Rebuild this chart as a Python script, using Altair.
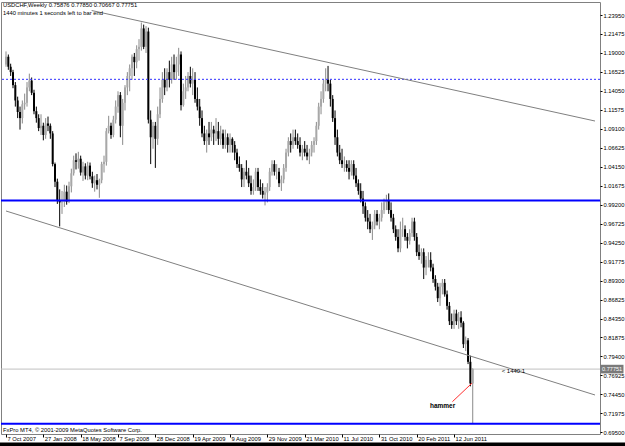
import json
import altair as alt
import pandas as pd

FONT = "Liberation Sans"

# ---------------- data ----------------
date_labels = ["7 Oct 2007", "27 Jan 2008", "18 May 2008", "7 Sep 2008", "28 Dec 2008",
               "19 Apr 2009", "9 Aug 2009", "29 Nov 2009", "21 Mar 2010", "11 Jul 2010",
               "31 Oct 2010", "20 Feb 2011", "12 Jun 2011"]
label_weeks = [0, 16, 32, 48, 64, 80, 96, 112, 128, 144, 160, 176, 192]

price_ticks = [0.69500, 0.71975, 0.74450, 0.76925, 0.79400, 0.81875, 0.84350, 0.86825,
               0.89300, 0.91775, 0.94250, 0.96725, 0.99200, 1.01675, 1.04150, 1.06625,
               1.09100, 1.11575, 1.14050, 1.16525, 1.19000, 1.21475, 1.23950]

opens = [1.1750, 1.1850, 1.1720, 1.1650, 1.1480, 1.1280, 1.1130, 1.1050, 1.1230, 1.1250,
         1.1450, 1.1540, 1.1380, 1.1140, 1.1050, 1.0920, 1.0950, 1.0830, 1.0980, 1.0950,
         1.0850, 1.0450, 1.0220, 0.9980, 0.9950, 0.9960, 1.0090, 0.9960, 1.0160, 1.0330,
         1.0500, 1.0480, 1.0520, 1.0340, 1.0420, 1.0300, 1.0430, 1.0290, 1.0200, 1.0240,
         1.0180, 1.0240, 1.0450, 1.0480, 1.0880, 1.0950, 1.0830, 1.1030, 1.1200, 1.1350,
         1.0950, 1.1250, 1.1450, 1.1600, 1.1700, 1.1850, 1.1780, 1.1950, 1.1980, 1.2220,
         1.1980, 1.2180, 1.1030, 1.0800, 1.0950, 1.0780, 1.1100, 1.1300, 1.1550, 1.1450,
         1.1650, 1.1550, 1.1750, 1.1650, 1.1750, 1.1880, 1.1220, 1.1400, 1.1450, 1.1600,
         1.1500, 1.1550, 1.1300, 1.1200, 1.1050, 1.0850, 1.0750, 1.0850, 1.0800, 1.0900,
         1.0850, 1.0880, 1.0780, 1.0850, 1.0700, 1.0800, 1.0700, 1.0780, 1.0700, 1.0600,
         1.0450, 1.0400, 1.0250, 1.0350, 1.0300, 1.0200, 1.0100, 1.0150, 1.0350, 1.0150,
         1.0100, 1.0050, 1.0080, 1.0150, 1.0350, 1.0450, 1.0350, 1.0350, 1.0200, 1.0250,
         1.0400, 1.0600, 1.0750, 1.0700, 1.0800, 1.0750, 1.0700, 1.0600, 1.0650, 1.0600,
         1.0550, 1.0600, 1.0700, 1.0750, 1.0950, 1.1200, 1.1300, 1.1500, 1.1550, 1.1500,
         1.1300, 1.1050, 1.0800, 1.0600, 1.0500, 1.0450, 1.0450, 1.0400, 1.0350, 1.0450,
         1.0300, 1.0200, 1.0100, 1.0000, 0.9900, 0.9750, 0.9700, 0.9600, 0.9650, 0.9800,
         0.9700, 0.9750, 0.9850, 0.9950, 0.9980, 0.9850, 0.9750, 0.9600, 0.9500, 0.9350,
         0.9600, 0.9600, 0.9500, 0.9450, 0.9550, 0.9700, 0.9500, 0.9300, 0.9250, 0.9300,
         0.9100, 0.9200, 0.9200, 0.9100, 0.8950, 0.8850, 0.8700, 0.8850, 0.8900, 0.8750,
         0.8600, 0.8400, 0.8350, 0.8500, 0.8400, 0.8450, 0.8380, 0.8100, 0.8150, 0.7870,
         0.75876]
highs = [1.1920, 1.1880, 1.1760, 1.1680, 1.1520, 1.1330, 1.1200, 1.1280, 1.1370, 1.1520,
         1.1630, 1.1580, 1.1420, 1.1200, 1.1100, 1.1100, 1.0990, 1.1050, 1.1070, 1.0980,
         1.0880, 1.0470, 1.0260, 1.0120, 1.0100, 1.0180, 1.0170, 1.0220, 1.0390, 1.0560,
         1.0590, 1.0610, 1.0560, 1.0480, 1.0460, 1.0480, 1.0470, 1.0350, 1.0300, 1.0320,
         1.0260, 1.0480, 1.0560, 1.0920, 1.1080, 1.0990, 1.1080, 1.1280, 1.1400, 1.1390,
         1.1300, 1.1480, 1.1650, 1.1750, 1.1880, 1.1900, 1.2000, 1.2080, 1.2297, 1.2270,
         1.2250, 1.2230, 1.1150, 1.1000, 1.1000, 1.1200, 1.1450, 1.1650, 1.1700, 1.1700,
         1.1800, 1.1850, 1.1880, 1.1850, 1.1967, 1.1920, 1.1500, 1.1600, 1.1650, 1.1720,
         1.1700, 1.1650, 1.1450, 1.1300, 1.1150, 1.0950, 1.0900, 1.1000, 1.1000, 1.0950,
         1.1050, 1.1000, 1.0950, 1.0900, 1.0900, 1.0850, 1.0850, 1.0800, 1.0750, 1.0650,
         1.0550, 1.0450, 1.0400, 1.0500, 1.0400, 1.0300, 1.0250, 1.0400, 1.0400, 1.0250,
         1.0200, 1.0150, 1.0200, 1.0400, 1.0500, 1.0500, 1.0450, 1.0400, 1.0300, 1.0450,
         1.0650, 1.0800, 1.0850, 1.0900, 1.0900, 1.0850, 1.0800, 1.0700, 1.0750, 1.0700,
         1.0650, 1.0750, 1.0800, 1.1000, 1.1250, 1.1400, 1.1550, 1.1700, 1.1731, 1.1550,
         1.1350, 1.1150, 1.0900, 1.0700, 1.0650, 1.0550, 1.0500, 1.0500, 1.0500, 1.0500,
         1.0400, 1.0250, 1.0200, 1.0100, 0.9950, 0.9850, 0.9800, 0.9700, 0.9850, 0.9850,
         0.9800, 0.9950, 1.0000, 1.0050, 1.0067, 0.9950, 0.9800, 0.9650, 0.9600, 0.9700,
         0.9750, 0.9650, 0.9550, 0.9600, 0.9750, 0.9750, 0.9550, 0.9400, 0.9350, 0.9350,
         0.9250, 0.9300, 0.9300, 0.9150, 0.9000, 0.8900, 0.8900, 0.8950, 0.8950, 0.8800,
         0.8650, 0.8500, 0.8550, 0.8550, 0.8520, 0.8530, 0.8400, 0.8200, 0.8180, 0.7950,
         0.77850]
lows = [1.1720, 1.1680, 1.1600, 1.1440, 1.1200, 1.1050, 1.0900, 1.0980, 1.1160, 1.1200,
        1.1400, 1.1350, 1.1100, 1.0990, 1.0880, 1.0830, 1.0760, 1.0780, 1.0880, 1.0780,
        1.0420, 1.0150, 0.9930, 0.9637, 0.9800, 0.9890, 0.9920, 0.9940, 1.0080, 1.0300,
        1.0380, 1.0390, 1.0300, 1.0230, 1.0250, 1.0240, 1.0250, 1.0140, 1.0090, 1.0120,
        1.0010, 1.0200, 1.0340, 1.0430, 1.0850, 1.0780, 1.0800, 1.0980, 1.1120, 1.0800,
        1.0700, 1.1150, 1.1350, 1.1400, 1.1550, 1.1600, 1.1700, 1.1800, 1.1930, 1.1950,
        1.1900, 1.0980, 1.0450, 1.0650, 1.0400, 1.0700, 1.1050, 1.1250, 1.1350, 1.1400,
        1.1450, 1.1500, 1.1550, 1.1550, 1.1600, 1.1150, 1.1200, 1.1300, 1.1400, 1.1450,
        1.1350, 1.1250, 1.1150, 1.0950, 1.0800, 1.0700, 1.0600, 1.0700, 1.0750, 1.0700,
        1.0750, 1.0700, 1.0700, 1.0650, 1.0650, 1.0600, 1.0600, 1.0600, 1.0500, 1.0400,
        1.0350, 1.0150, 1.0150, 1.0250, 1.0150, 1.0050, 1.0050, 1.0100, 1.0100, 1.0050,
        1.0000, 0.9911, 0.9950, 1.0100, 1.0300, 1.0300, 1.0250, 1.0150, 1.0100, 1.0200,
        1.0350, 1.0550, 1.0600, 1.0650, 1.0700, 1.0650, 1.0550, 1.0500, 1.0550, 1.0500,
        1.0450, 1.0550, 1.0600, 1.0700, 1.0900, 1.1100, 1.1250, 1.1400, 1.1400, 1.1200,
        1.1000, 1.0700, 1.0550, 1.0450, 1.0400, 1.0350, 1.0350, 1.0250, 1.0300, 1.0250,
        1.0150, 1.0050, 0.9950, 0.9800, 0.9700, 0.9600, 0.9550, 0.9460, 0.9600, 0.9650,
        0.9600, 0.9700, 0.9800, 0.9850, 0.9800, 0.9700, 0.9550, 0.9450, 0.9300, 0.9300,
        0.9500, 0.9450, 0.9350, 0.9400, 0.9500, 0.9450, 0.9250, 0.9200, 0.9150, 0.8950,
        0.9000, 0.9100, 0.9050, 0.8900, 0.8800, 0.8650, 0.8600, 0.8750, 0.8720, 0.8550,
        0.8350, 0.8300, 0.8300, 0.8350, 0.8300, 0.8320, 0.8050, 0.8010, 0.7840, 0.7550,
        0.70667]
closes = [1.1850, 1.1720, 1.1650, 1.1480, 1.1280, 1.1130, 1.1050, 1.1230, 1.1250, 1.1450,
          1.1540, 1.1380, 1.1140, 1.1050, 1.0920, 1.0950, 1.0830, 1.0980, 1.0950, 1.0850,
          1.0450, 1.0220, 0.9980, 0.9950, 0.9960, 1.0090, 0.9960, 1.0160, 1.0330, 1.0500,
          1.0480, 1.0520, 1.0340, 1.0420, 1.0300, 1.0430, 1.0290, 1.0200, 1.0240, 1.0180,
          1.0240, 1.0450, 1.0480, 1.0880, 1.0950, 1.0830, 1.1030, 1.1200, 1.1350, 1.0950,
          1.1250, 1.1450, 1.1600, 1.1700, 1.1850, 1.1780, 1.1950, 1.1980, 1.2220, 1.1980,
          1.2180, 1.1030, 1.0800, 1.0950, 1.0780, 1.1100, 1.1300, 1.1550, 1.1450, 1.1650,
          1.1550, 1.1750, 1.1650, 1.1750, 1.1880, 1.1220, 1.1400, 1.1450, 1.1600, 1.1500,
          1.1550, 1.1300, 1.1200, 1.1050, 1.0850, 1.0750, 1.0850, 1.0800, 1.0900, 1.0850,
          1.0880, 1.0780, 1.0850, 1.0700, 1.0800, 1.0700, 1.0780, 1.0700, 1.0600, 1.0450,
          1.0400, 1.0250, 1.0350, 1.0300, 1.0200, 1.0100, 1.0150, 1.0350, 1.0150, 1.0100,
          1.0050, 1.0080, 1.0150, 1.0350, 1.0450, 1.0350, 1.0350, 1.0200, 1.0250, 1.0400,
          1.0600, 1.0750, 1.0700, 1.0800, 1.0750, 1.0700, 1.0600, 1.0650, 1.0600, 1.0550,
          1.0600, 1.0700, 1.0750, 1.0950, 1.1200, 1.1300, 1.1500, 1.1550, 1.1500, 1.1300,
          1.1050, 1.0800, 1.0600, 1.0500, 1.0450, 1.0450, 1.0400, 1.0350, 1.0450, 1.0300,
          1.0200, 1.0100, 1.0000, 0.9900, 0.9750, 0.9700, 0.9600, 0.9650, 0.9800, 0.9700,
          0.9750, 0.9850, 0.9950, 0.9980, 0.9850, 0.9750, 0.9600, 0.9500, 0.9350, 0.9600,
          0.9600, 0.9500, 0.9450, 0.9550, 0.9700, 0.9500, 0.9300, 0.9250, 0.9300, 0.9100,
          0.9200, 0.9200, 0.9100, 0.8950, 0.8850, 0.8700, 0.8850, 0.8900, 0.8750, 0.8600,
          0.8400, 0.8350, 0.8500, 0.8400, 0.8450, 0.8380, 0.8100, 0.8150, 0.7870, 0.75876,
          0.77751]

# chart objects (week index, price)
h_blue = [0.9975, 0.7062]
h_dotted = [1.1556]
bid_price = 0.77751
upper_channel = {"week": [36.7, 252.4], "price": [1.2454, 1.1012]}
lower_channel = {"week": [0.0, 252.4], "price": [0.9838, 0.7437]}
arrow_line = {"week": [191.3, 199.7], "price": [0.7350, 0.7592]}
hammer_label = {"week": [187.1], "price": [0.7293], "text": ["hammer"]}
timer_label = {"week": [212.4], "price": [0.7750], "text": ["< 1440:1"]}
header_lines = ["USDCHF,Weekly  0.75876 0.77850 0.70667 0.77751",
                "1440 minutes 1 seconds left to bar end"]
footer_text = "FxPro MT4, \u00a9 2001-2009 MetaQuotes Software Corp."

# ---------------- frames ----------------
n = len(closes)
candles = pd.DataFrame({"week": list(range(n)), "open": opens, "high": highs,
                        "low": lows, "close": closes})
candles["dir"] = ["up" if c >= o else "down" for o, c in zip(opens, closes)]

W, H = 599, 432
xs = alt.Scale(domain=[0, 252.4], nice=False, zero=False)
ys = alt.Scale(domain=[0.6928, 1.2565], nice=False, zero=False)

label_expr = json.dumps(date_labels) + "[round(datum.value / 16)]"

x_axis = alt.Axis(orient="bottom", values=label_weeks, labelExpr=label_expr,
                  labelAlign="left", labelBaseline="middle", labelFont=FONT,
                  labelFontSize=5.8, labelColor="#000000", tickSize=3,
                  tickColor="#000000", domain=False, grid=False, title=None,
                  labelPadding=1.5, labelOverlap=False, labelFlush=False, labelOffset=1)
y_axis = alt.Axis(orient="right", values=price_ticks, format=".5f", labelFont=FONT,
                  labelFontSize=5.8, labelColor="#000000", tickSize=2,
                  tickColor="#000000", domain=False, grid=False, title=None,
                  labelPadding=1, labelOverlap=False, labelFlush=False)


def X(f="week"):
    return alt.X(f"{f}:Q", scale=xs, axis=x_axis, title=None)


def Y(f="price"):
    return alt.Y(f"{f}:Q", scale=ys, axis=y_axis, title=None)


bid = alt.Chart(pd.DataFrame({"price": [bid_price]})).mark_rule(
    color="#c0c0c0", strokeWidth=1).encode(y=Y())

wicks = alt.Chart(candles).mark_rule(strokeWidth=1, clip=True).encode(
    x=X(), y=Y("low"), y2="high:Q",
    color=alt.Color("dir:N", scale=alt.Scale(domain=["up", "down"],
                                               range=["#8a8a8a", "#000000"]), legend=None))
bodies = alt.Chart(candles).mark_bar(size=2, clip=True).encode(
    x=X(), y=Y("open"), y2="close:Q",
    color=alt.Color("dir:N", scale=alt.Scale(domain=["up", "down"],
                                               range=["#a8a8a8", "#000000"]), legend=None))

blue = alt.Chart(pd.DataFrame({"price": h_blue})).mark_rule(
    color="#0000ff", strokeWidth=1.8).encode(y=Y())
dotted = alt.Chart(pd.DataFrame({"price": h_dotted})).mark_rule(
    color="#3030ff", strokeWidth=1, strokeDash=[2, 2]).encode(y=Y())

up_ch = alt.Chart(pd.DataFrame(upper_channel)).mark_line(
    color="#808080", strokeWidth=1, clip=True).encode(x=X(), y=Y())
lo_ch = alt.Chart(pd.DataFrame(lower_channel)).mark_line(
    color="#808080", strokeWidth=1, clip=True).encode(x=X(), y=Y())
arrow = alt.Chart(pd.DataFrame(arrow_line)).mark_line(
    color="#ff3030", strokeWidth=1).encode(x=X(), y=Y())

hammer = alt.Chart(pd.DataFrame(hammer_label)).mark_text(
    font=FONT, fontSize=6.5, fontWeight="bold", color="#000000", align="center",
    baseline="middle").encode(x=X(), y=Y(), text="text:N")
timer = alt.Chart(pd.DataFrame(timer_label)).mark_text(
    font=FONT, fontSize=6, color="#000000", align="left",
    baseline="middle").encode(x=X(), y=Y(), text="text:N")

half = 4.3 / 766.4
box_df = pd.DataFrame({"p1": [bid_price + half], "p2": [bid_price - half],
                       "price": [bid_price], "text": [f"{bid_price:.5f}"]})
box = alt.Chart(box_df).mark_rect(color="#7a7a7a", clip=False).encode(
    x=alt.value(599.5), x2=alt.value(622.5), y=Y("p1"), y2="p2:Q")
box_text = alt.Chart(box_df).mark_text(
    font=FONT, fontSize=5.6, color="#ffffff", align="left", baseline="middle",
    clip=False).encode(x=alt.value(601), y=Y(), text="text:N")

hdr1 = alt.Chart(pd.DataFrame({"text": [header_lines[0]]})).mark_text(
    font=FONT, fontSize=5.8, color="#000000", align="left", baseline="middle").encode(
    x=alt.value(2), y=alt.value(3), text="text:N")
hdr2 = alt.Chart(pd.DataFrame({"text": [header_lines[1]]})).mark_text(
    font=FONT, fontSize=5.8, color="#000000", align="left", baseline="middle").encode(
    x=alt.value(2), y=alt.value(11), text="text:N")
ftr = alt.Chart(pd.DataFrame({"text": [footer_text]})).mark_text(
    font=FONT, fontSize=5.8, color="#000000", align="left", baseline="middle").encode(
    x=alt.value(2), y=alt.value(428), text="text:N")

band = alt.Chart(pd.DataFrame({"a": [0]})).mark_rect(color="#000000", clip=False).encode(
    x=alt.value(-2), x2=alt.value(626), y=alt.value(440.5), y2=alt.value(446))

chart = alt.layer(
    bid, wicks, bodies, blue, dotted, up_ch, lo_ch, arrow, hammer, timer,
    box, box_text, hdr1, hdr2, ftr, band
).resolve_scale(color="independent").properties(
    width=W, height=H,
    autosize=alt.AutoSizeParams(type="none"),
    padding={"left": 1, "top": 2, "right": 25, "bottom": 12},
    background="#ffffff",
).configure_view(stroke="#808080", strokeWidth=1)

chart.save("out.html", embed_options={"renderer": "svg", "actions": False})
